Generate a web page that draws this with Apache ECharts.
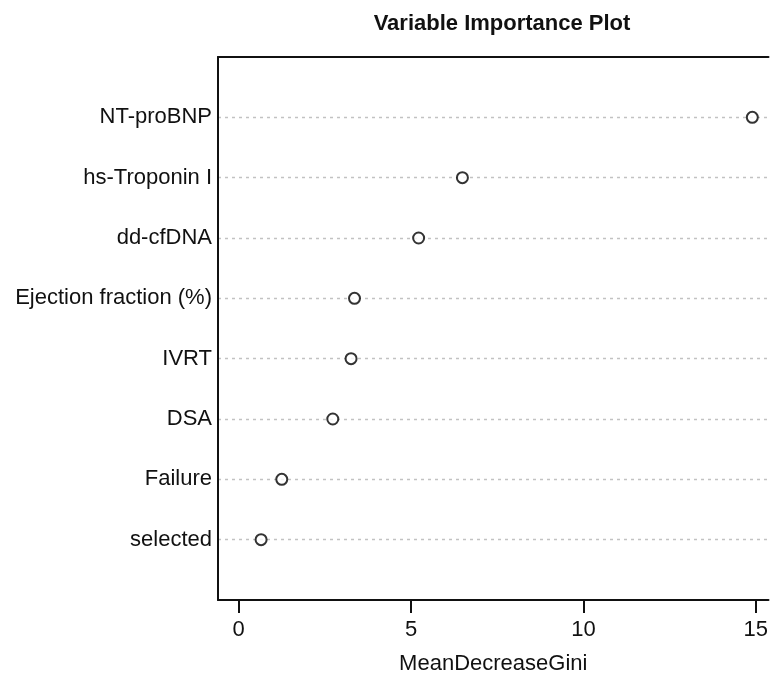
<!DOCTYPE html>
<html>
<head>
<meta charset="utf-8">
<script src="https://cdn.jsdelivr.net/npm/echarts@6/dist/echarts.min.js"></script>
<style>
  html, body { margin: 0; padding: 0; background: #fff; }
  #chart { width: 771px; height: 684px; }
</style>
</head>
<body>
<div id="chart"></div>
<script>
// variables, top to bottom as drawn
var varNames = ['NT-proBNP', 'hs-Troponin I', 'dd-cfDNA', 'Ejection fraction (%)', 'IVRT', 'DSA', 'Failure', 'selected'];
var meanDecreaseGini = [14.9, 6.49, 5.22, 3.36, 3.26, 2.73, 1.25, 0.65];
var xTicks = [0, 5, 10, 15];

// dotchart puts the last row at y = 1 and the first at y = n
var n = varNames.length;
var points = meanDecreaseGini.map(function (v, i) { return [v, n - i]; });

var chart = echarts.init(document.getElementById('chart'));

var boxLine = { show: true, onZero: false, lineStyle: { color: '#111', width: 2 } };

var option = {
  animation: false,
  backgroundColor: '#fff',
  textStyle: { fontFamily: 'Liberation Sans, Arial, sans-serif' },
  title: {
    text: 'Variable Importance Plot',
    left: 497,
    textAlign: 'center',
    top: 8,
    textStyle: { fontSize: 22, fontWeight: 'bold', color: '#111', fontFamily: 'Liberation Sans, Arial, sans-serif' }
  },
  // the plot box goes on past the right edge, so no right border here
  grid: { left: 218, top: 57, right: 0, bottom: 84 },
  xAxis: [
    {
      type: 'value',
      min: -0.6,
      max: 15.37,
      name: 'MeanDecreaseGini',
      nameLocation: 'middle',
      nameGap: 53,
      nameMoveOverlap: false,
      nameTextStyle: { fontSize: 22, color: '#111' },
      axisLine: boxLine,
      splitLine: { show: false },
      axisTick: {
        show: true,
        customValues: xTicks,
        length: 13,
        lineStyle: { color: '#111', width: 2 }
      },
      axisLabel: {
        customValues: xTicks,
        margin: 19,
        fontSize: 22,
        color: '#111'
      }
    },
    {
      type: 'value',
      position: 'top',
      min: -0.6,
      max: 15.37,
      axisLine: boxLine,
      axisTick: { show: false },
      axisLabel: { show: false },
      splitLine: { show: false }
    }
  ],
  yAxis: {
    type: 'value',
    position: 'left',
    min: 0,
    max: n + 1,
    interval: 1,
    axisLine: boxLine,
    axisTick: { show: false },
    axisLabel: {
      margin: 6,
      fontSize: 22,
      color: '#111',
      formatter: function (v) {
        if (v < 1 || v > n) return '';
        return varNames[n - v];
      }
    },
    splitLine: {
      show: true,
      showMinLine: false,
      showMaxLine: false,
      lineStyle: { color: '#c2c2c2', width: 1.3, type: [3, 4] }
    }
  },
  series: [
    {
      type: 'scatter',
      data: points,
      symbol: 'emptyCircle',
      symbolSize: 11,
      itemStyle: { color: '#000', borderWidth: 2 },
      z: 5
    }
  ]
};

chart.setOption(option);
</script>
</body>
</html>
